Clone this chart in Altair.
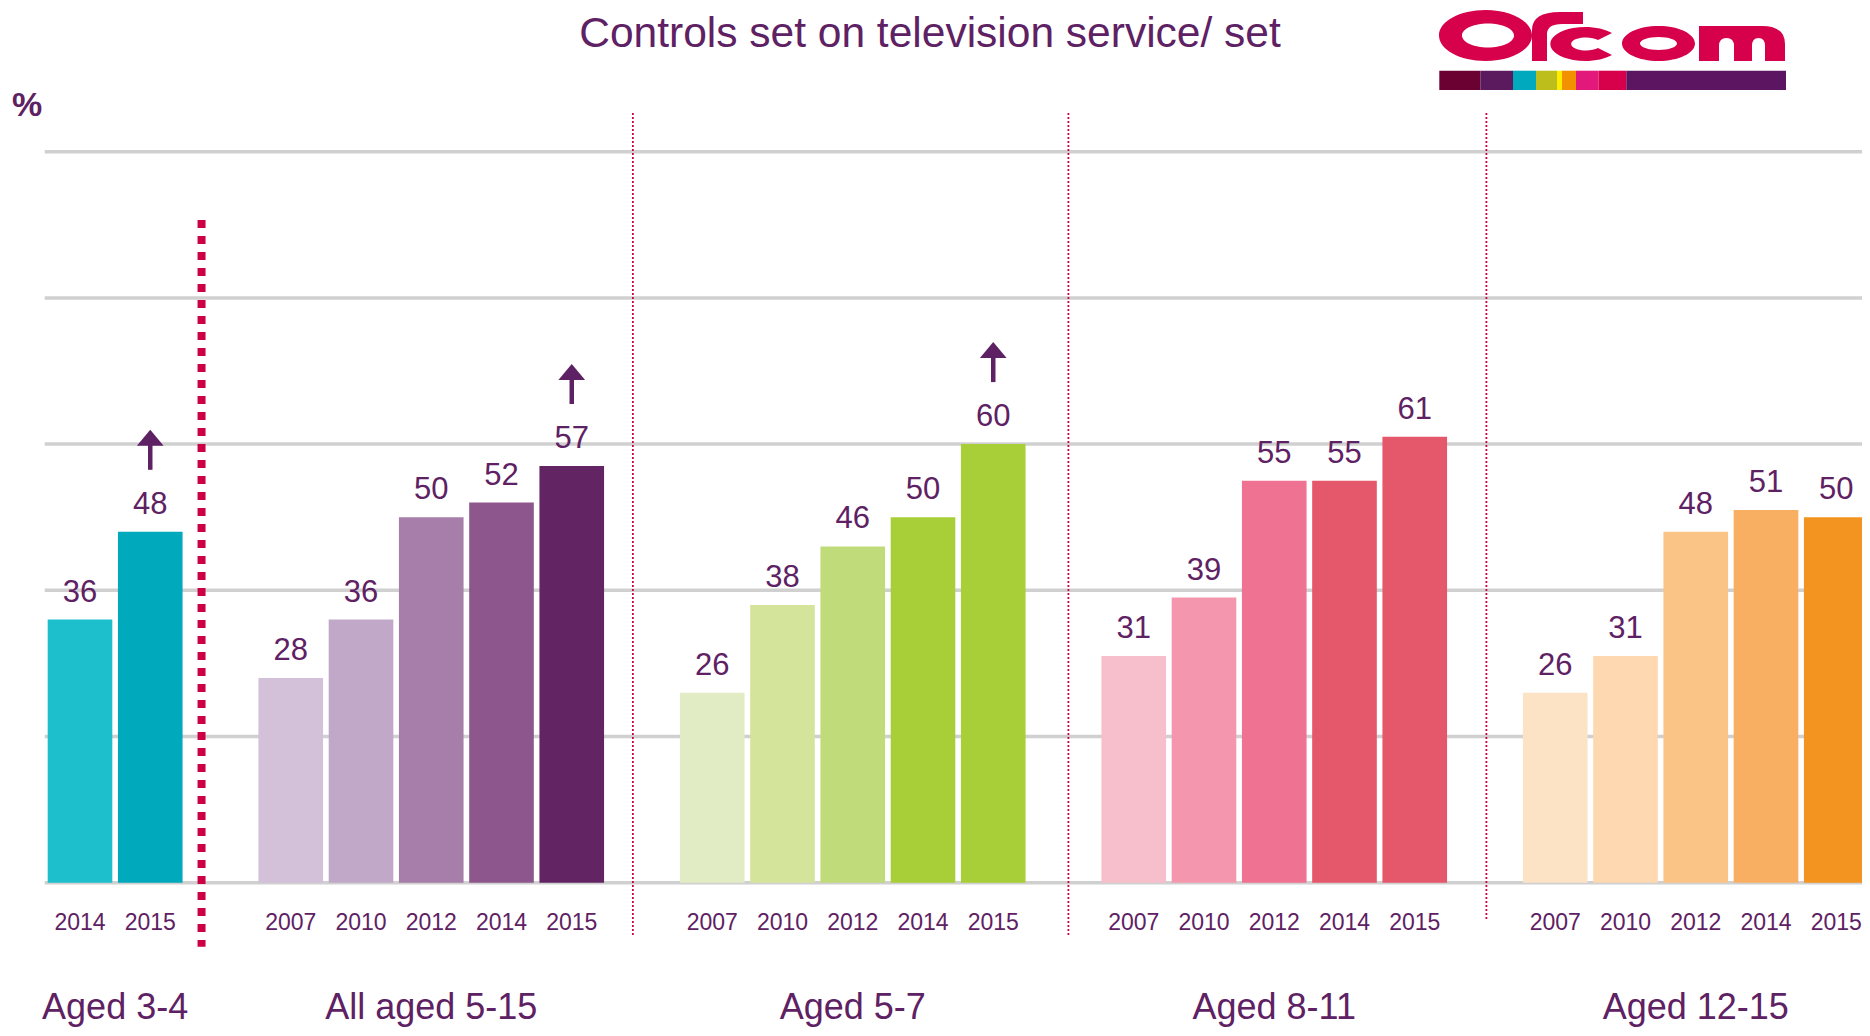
import altair as alt
import pandas as pd

# ---------------- data ----------------
groups = ["Aged 3-4", "All aged 5-15", "Aged 5-7", "Aged 8-11", "Aged 12-15"]
years = [
    ["2014", "2015"],
    ["2007", "2010", "2012", "2014", "2015"],
    ["2007", "2010", "2012", "2014", "2015"],
    ["2007", "2010", "2012", "2014", "2015"],
    ["2007", "2010", "2012", "2014", "2015"],
]
values = [
    [36, 48],
    [28, 36, 50, 52, 57],
    [26, 38, 46, 50, 60],
    [31, 39, 55, 55, 61],
    [26, 31, 48, 51, 50],
]
# significant increase arrows (2015 vs 2014)
rising = [
    [False, True],
    [False, False, False, False, True],
    [False, False, False, False, True],
    [False, False, False, False, False],
    [False, False, False, False, False],
]
grid_ticks = [0, 20, 40, 60, 80, 100]

# ---------------- styles ----------------
palette = [
    ["#1DBFCD", "#00AABC"],
    ["#D3C1D9", "#C1A7C8", "#A67EA9", "#8D578D", "#622463"],
    ["#E2ECC4", "#D4E59B", "#BFDB7A", "#A9CF38", "#A9CF38"],
    ["#F7BECB", "#F497AE", "#F07292", "#E5576A", "#E5576A"],
    ["#FDE3C6", "#FDD8B0", "#FBC487", "#F9AF61", "#F39320"],
]
TEXT = "#5E2163"
GRID = "#D0D0D0"
RED = "#CE0045"
FONT = "Liberation Sans, Arial, sans-serif"

W, H = 1854, 1020
X_DOM = [-1.0249, 25.3666]
Y_DOM = [-19.88, 119.66]

# ---------------- build tables ----------------
rows = []
slot = 0
group_rows = []
for gi, g in enumerate(groups):
    slots = []
    for yi, yr in enumerate(years[gi]):
        rows.append({
            "group": g, "year": yr, "value": values[gi][yi],
            "slot": slot, "x0": slot - 0.46, "x1": slot + 0.46,
            "bar_id": f"{gi}-{yi}", "rising": rising[gi][yi],
        })
        slots.append(slot)
        slot += 1
    group_rows.append({"group": g, "center": sum(slots) / len(slots)})
    slot += 1
bars = pd.DataFrame(rows)
gdf = pd.DataFrame(group_rows)
bar_ids = list(bars["bar_id"])
bar_colors = [c for grp in palette for c in grp]

xs = alt.Scale(domain=X_DOM, nice=False, zero=False)
ys = alt.Scale(domain=Y_DOM, nice=False, zero=False)

grid_df = pd.DataFrame({"v": grid_ticks, "xa": -0.5025, "xb": X_DOM[1]})
grid = alt.Chart(grid_df).mark_rule(color=GRID, strokeWidth=3.5).encode(
    x=alt.X("xa:Q", scale=xs, axis=None),
    x2="xb:Q",
    y=alt.Y("v:Q", scale=ys, axis=None),
)

thin_df = pd.DataFrame({"x": [7.87, 14.07, 20.02], "top": [105.3, 105.3, 105.3],
                        "bot": [-7.43, -7.43, -5.24]})
thin = alt.Chart(thin_df).mark_rule(color=RED, strokeWidth=1.8, strokeDash=[2, 2]).encode(
    x=alt.X("x:Q", scale=xs, axis=None),
    y=alt.Y("top:Q", scale=ys, axis=None),
    y2="bot:Q",
)

thick_df = pd.DataFrame({"x": [1.73], "top": [90.65], "bot": [-8.76]})
thick = alt.Chart(thick_df).mark_rule(color=RED, strokeWidth=8, strokeDash=[8, 8]).encode(
    x=alt.X("x:Q", scale=xs, axis=None),
    y=alt.Y("top:Q", scale=ys, axis=None),
    y2="bot:Q",
)

bar_layer = alt.Chart(bars).mark_rect().encode(
    x=alt.X("x0:Q", scale=xs, axis=None),
    x2="x1:Q",
    y=alt.Y("value:Q", scale=ys, axis=None),
    y2=alt.datum(0),
    color=alt.Color("bar_id:N", scale=alt.Scale(domain=bar_ids, range=bar_colors), legend=None),
)

val_labels = alt.Chart(bars).mark_text(
    font=FONT, fontSize=31, color=TEXT, baseline="alphabetic", align="center", dy=-18
).encode(
    x=alt.X("slot:Q", scale=xs, axis=None),
    y=alt.Y("value:Q", scale=ys, axis=None),
    text="value:Q",
)

year_labels = alt.Chart(bars).mark_text(
    font=FONT, fontSize=23, color=TEXT, baseline="alphabetic", align="center"
).encode(
    x=alt.X("slot:Q", scale=xs, axis=None),
    y=alt.value(922),
    text="year:N",
)

group_labels = alt.Chart(gdf).mark_text(
    font=FONT, fontSize=36, color=TEXT, baseline="alphabetic", align="center"
).encode(
    x=alt.X("center:Q", scale=xs, axis=None),
    y=alt.value(1011),
    text="group:N",
)

up = bars[bars["rising"]]
shaft = alt.Chart(up).mark_rule(color=TEXT, strokeWidth=4.5, yOffset=-62, y2Offset=-90).encode(
    x=alt.X("slot:Q", scale=xs, axis=None),
    y=alt.Y("value:Q", scale=ys, axis=None),
    y2="value:Q",
)
head = alt.Chart(up).mark_point(
    shape="M0,-0.6L1,0.6L-1,0.6Z", filled=True, size=713, color=TEXT, opacity=1, yOffset=-94
).encode(
    x=alt.X("slot:Q", scale=xs, axis=None),
    y=alt.Y("value:Q", scale=ys, axis=None),
)

title = alt.Chart(pd.DataFrame({"t": ["Controls set on television service/ set"]})).mark_text(
    font=FONT, fontSize=42.5, color=TEXT, align="center", baseline="alphabetic"
).encode(x=alt.value(922), y=alt.value(38.5), text="t:N")

pct = alt.Chart(pd.DataFrame({"t": ["%"]})).mark_text(
    font=FONT, fontSize=34, fontWeight="bold", color=TEXT, align="left", baseline="alphabetic"
).encode(x=alt.value(4), y=alt.value(108), text="t:N")

# ---------------- Ofcom logo (drawn as one custom symbol path, 1 unit = 1 px) ----------------
LOGO_RED = "#D6004B"
AX, AY = 1612, 36  # anchor in page pixels


def P(x, y):
    return f"{x - AX:.1f},{y - AY:.1f}"


def ring(cx, cy, rx, ry, icx, icy, irx, iry):
    return (
        f"M{P(cx - rx, cy)}A{rx},{ry} 0 1 1 {P(cx + rx, cy)}A{rx},{ry} 0 1 1 {P(cx - rx, cy)}Z"
        f"M{P(icx - irx, icy)}A{irx},{iry} 0 1 0 {P(icx + irx, icy)}A{irx},{iry} 0 1 0 {P(icx - irx, icy)}Z"
    )


logo_path = (
    ring(1485.5, 35.5, 46.5, 25.5, 1488, 35.5, 26, 12)
    # f
    + f"M{P(1532, 61)}L{P(1532, 30)}Q{P(1532, 12)} {P(1560, 12)}L{P(1583, 12)}L{P(1583, 24)}"
    + f"L{P(1562, 24)}Q{P(1547, 24)} {P(1547, 34)}L{P(1547, 61)}Z"
    # c
    + f"M{P(1612, 33)}A35,17 0 1 0 {P(1612, 55)}L{P(1598, 48)}A15,6.5 0 1 1 {P(1598, 40)}Z"
    # o
    + ring(1658.5, 43.5, 36.5, 17.5, 1658.5, 43.5, 18.5, 6.5)
    # m
    + f"M{P(1699, 61)}L{P(1699, 26)}L{P(1762, 26)}Q{P(1785, 26)} {P(1785, 44)}L{P(1785, 61)}"
    + f"L{P(1765, 61)}L{P(1765, 46)}Q{P(1765, 38)} {P(1758.5, 38)}Q{P(1752, 38)} {P(1752, 46)}"
    + f"L{P(1752, 61)}L{P(1734, 61)}L{P(1734, 46)}Q{P(1734, 38)} {P(1726.5, 38)}"
    + f"Q{P(1719, 38)} {P(1719, 46)}L{P(1719, 61)}Z"
)

logo = alt.Chart(pd.DataFrame({"k": ["logo"]})).mark_point(
    shape=logo_path, size=4, filled=True, color=LOGO_RED, opacity=1, strokeWidth=0
).encode(x=alt.value(AX - 8), y=alt.value(AY - 8))

stripe = pd.DataFrame({
    "a": [1431.3, 1472.3, 1505.0, 1528.0, 1549.0, 1554.0, 1568.0, 1590.7, 1618.3],
    "b": [1472.3, 1505.0, 1528.0, 1549.0, 1554.0, 1568.0, 1590.7, 1618.3, 1778.0],
    "c": ["#6B0033", "#5C1A5E", "#00A9BE", "#BDBE1B", "#FFED00", "#F39200", "#E2197A", "#D6004B", "#5C1560"],
})
stripe_layer = alt.Chart(stripe).mark_rect().encode(
    x=alt.X("a:Q", scale=None), x2="b:Q",
    y=alt.value(62.7), y2=alt.value(82),
    color=alt.Color("c:N", scale=None),
)

chart = alt.layer(
    grid, thin, bar_layer, val_labels, year_labels, group_labels, shaft, head, thick,
    title, pct, stripe_layer, logo,
).properties(
    width=W, height=H, padding=0, autosize="none", background="white"
).configure_view(stroke=None)

chart.save("out.html", embed_options={"renderer": "svg", "actions": False})
